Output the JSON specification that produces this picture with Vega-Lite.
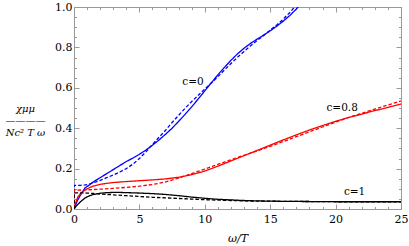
{
  "$schema": "https://vega.github.io/schema/vega-lite/v6.json",
  "width": 327,
  "height": 202,
  "autosize": "none",
  "padding": {"left": 74, "top": 7, "right": 8, "bottom": 37},
  "background": "white",
  "config": {
    "view": {"stroke": "#999999", "strokeWidth": 1},
    "font": "DejaVu Serif"
  },
  "datasets": {
    "curves": [
      {"w": 0, "v": 0, "c": "c=0", "s": "solid"},
      {"w": 0.25, "v": 0.04, "c": "c=0", "s": "solid"},
      {"w": 0.5, "v": 0.07, "c": "c=0", "s": "solid"},
      {"w": 0.85, "v": 0.105, "c": "c=0", "s": "solid"},
      {"w": 1.2, "v": 0.12, "c": "c=0", "s": "solid"},
      {"w": 1.5, "v": 0.135, "c": "c=0", "s": "solid"},
      {"w": 2, "v": 0.155, "c": "c=0", "s": "solid"},
      {"w": 2.5, "v": 0.175, "c": "c=0", "s": "solid"},
      {"w": 3, "v": 0.195, "c": "c=0", "s": "solid"},
      {"w": 3.5, "v": 0.215, "c": "c=0", "s": "solid"},
      {"w": 4, "v": 0.235, "c": "c=0", "s": "solid"},
      {"w": 4.5, "v": 0.252, "c": "c=0", "s": "solid"},
      {"w": 5, "v": 0.271, "c": "c=0", "s": "solid"},
      {"w": 5.5, "v": 0.292, "c": "c=0", "s": "solid"},
      {"w": 6, "v": 0.316, "c": "c=0", "s": "solid"},
      {"w": 6.5, "v": 0.342, "c": "c=0", "s": "solid"},
      {"w": 7, "v": 0.37, "c": "c=0", "s": "solid"},
      {"w": 7.5, "v": 0.4, "c": "c=0", "s": "solid"},
      {"w": 8, "v": 0.434, "c": "c=0", "s": "solid"},
      {"w": 8.5, "v": 0.469, "c": "c=0", "s": "solid"},
      {"w": 9, "v": 0.506, "c": "c=0", "s": "solid"},
      {"w": 9.5, "v": 0.545, "c": "c=0", "s": "solid"},
      {"w": 10, "v": 0.585, "c": "c=0", "s": "solid"},
      {"w": 10.5, "v": 0.625, "c": "c=0", "s": "solid"},
      {"w": 11, "v": 0.664, "c": "c=0", "s": "solid"},
      {"w": 11.5, "v": 0.701, "c": "c=0", "s": "solid"},
      {"w": 12, "v": 0.736, "c": "c=0", "s": "solid"},
      {"w": 12.5, "v": 0.768, "c": "c=0", "s": "solid"},
      {"w": 13, "v": 0.796, "c": "c=0", "s": "solid"},
      {"w": 13.5, "v": 0.82, "c": "c=0", "s": "solid"},
      {"w": 14, "v": 0.841, "c": "c=0", "s": "solid"},
      {"w": 14.5, "v": 0.861, "c": "c=0", "s": "solid"},
      {"w": 15, "v": 0.882, "c": "c=0", "s": "solid"},
      {"w": 15.5, "v": 0.905, "c": "c=0", "s": "solid"},
      {"w": 16, "v": 0.93, "c": "c=0", "s": "solid"},
      {"w": 16.5, "v": 0.958, "c": "c=0", "s": "solid"},
      {"w": 17, "v": 0.99, "c": "c=0", "s": "solid"},
      {"w": 17.5, "v": 1.03, "c": "c=0", "s": "solid"},

      {"w": 0, "v": 0, "c": "c=0", "s": "dashed"},
      {"w": 0.02, "v": 0.117, "c": "c=0", "s": "dashed"},
      {"w": 0.5, "v": 0.117, "c": "c=0", "s": "dashed"},
      {"w": 0.85, "v": 0.119, "c": "c=0", "s": "dashed"},
      {"w": 1.2, "v": 0.124, "c": "c=0", "s": "dashed"},
      {"w": 1.5, "v": 0.13, "c": "c=0", "s": "dashed"},
      {"w": 2, "v": 0.142, "c": "c=0", "s": "dashed"},
      {"w": 2.5, "v": 0.155, "c": "c=0", "s": "dashed"},
      {"w": 3, "v": 0.168, "c": "c=0", "s": "dashed"},
      {"w": 3.5, "v": 0.183, "c": "c=0", "s": "dashed"},
      {"w": 4, "v": 0.2, "c": "c=0", "s": "dashed"},
      {"w": 4.5, "v": 0.222, "c": "c=0", "s": "dashed"},
      {"w": 5, "v": 0.25, "c": "c=0", "s": "dashed"},
      {"w": 5.5, "v": 0.283, "c": "c=0", "s": "dashed"},
      {"w": 6, "v": 0.32, "c": "c=0", "s": "dashed"},
      {"w": 6.5, "v": 0.355, "c": "c=0", "s": "dashed"},
      {"w": 7, "v": 0.39, "c": "c=0", "s": "dashed"},
      {"w": 7.5, "v": 0.428, "c": "c=0", "s": "dashed"},
      {"w": 8, "v": 0.464, "c": "c=0", "s": "dashed"},
      {"w": 8.5, "v": 0.499, "c": "c=0", "s": "dashed"},
      {"w": 9, "v": 0.532, "c": "c=0", "s": "dashed"},
      {"w": 9.5, "v": 0.563, "c": "c=0", "s": "dashed"},
      {"w": 10, "v": 0.594, "c": "c=0", "s": "dashed"},
      {"w": 10.5, "v": 0.624, "c": "c=0", "s": "dashed"},
      {"w": 11, "v": 0.655, "c": "c=0", "s": "dashed"},
      {"w": 11.5, "v": 0.688, "c": "c=0", "s": "dashed"},
      {"w": 12, "v": 0.72, "c": "c=0", "s": "dashed"},
      {"w": 12.5, "v": 0.751, "c": "c=0", "s": "dashed"},
      {"w": 13, "v": 0.78, "c": "c=0", "s": "dashed"},
      {"w": 13.5, "v": 0.808, "c": "c=0", "s": "dashed"},
      {"w": 14, "v": 0.834, "c": "c=0", "s": "dashed"},
      {"w": 14.5, "v": 0.859, "c": "c=0", "s": "dashed"},
      {"w": 15, "v": 0.885, "c": "c=0", "s": "dashed"},
      {"w": 15.5, "v": 0.911, "c": "c=0", "s": "dashed"},
      {"w": 16, "v": 0.94, "c": "c=0", "s": "dashed"},
      {"w": 16.5, "v": 0.973, "c": "c=0", "s": "dashed"},
      {"w": 17, "v": 1.01, "c": "c=0", "s": "dashed"},
      {"w": 17.5, "v": 1.05, "c": "c=0", "s": "dashed"},

      {"w": 0, "v": 0, "c": "c=0.8", "s": "solid"},
      {"w": 0.15, "v": 0.035, "c": "c=0.8", "s": "solid"},
      {"w": 0.3, "v": 0.06, "c": "c=0.8", "s": "solid"},
      {"w": 0.5, "v": 0.077, "c": "c=0.8", "s": "solid"},
      {"w": 0.85, "v": 0.095, "c": "c=0.8", "s": "solid"},
      {"w": 1.2, "v": 0.106, "c": "c=0.8", "s": "solid"},
      {"w": 1.5, "v": 0.114, "c": "c=0.8", "s": "solid"},
      {"w": 2, "v": 0.122, "c": "c=0.8", "s": "solid"},
      {"w": 2.5, "v": 0.127, "c": "c=0.8", "s": "solid"},
      {"w": 3, "v": 0.131, "c": "c=0.8", "s": "solid"},
      {"w": 4, "v": 0.136, "c": "c=0.8", "s": "solid"},
      {"w": 5, "v": 0.14, "c": "c=0.8", "s": "solid"},
      {"w": 6, "v": 0.144, "c": "c=0.8", "s": "solid"},
      {"w": 7, "v": 0.149, "c": "c=0.8", "s": "solid"},
      {"w": 8, "v": 0.157, "c": "c=0.8", "s": "solid"},
      {"w": 9, "v": 0.17, "c": "c=0.8", "s": "solid"},
      {"w": 10, "v": 0.188, "c": "c=0.8", "s": "solid"},
      {"w": 11, "v": 0.212, "c": "c=0.8", "s": "solid"},
      {"w": 12, "v": 0.238, "c": "c=0.8", "s": "solid"},
      {"w": 13, "v": 0.264, "c": "c=0.8", "s": "solid"},
      {"w": 14, "v": 0.29, "c": "c=0.8", "s": "solid"},
      {"w": 15, "v": 0.316, "c": "c=0.8", "s": "solid"},
      {"w": 16, "v": 0.342, "c": "c=0.8", "s": "solid"},
      {"w": 17, "v": 0.367, "c": "c=0.8", "s": "solid"},
      {"w": 18, "v": 0.391, "c": "c=0.8", "s": "solid"},
      {"w": 19, "v": 0.413, "c": "c=0.8", "s": "solid"},
      {"w": 20, "v": 0.434, "c": "c=0.8", "s": "solid"},
      {"w": 21, "v": 0.453, "c": "c=0.8", "s": "solid"},
      {"w": 22, "v": 0.47, "c": "c=0.8", "s": "solid"},
      {"w": 23, "v": 0.487, "c": "c=0.8", "s": "solid"},
      {"w": 24, "v": 0.503, "c": "c=0.8", "s": "solid"},
      {"w": 25, "v": 0.52, "c": "c=0.8", "s": "solid"},

      {"w": 0, "v": 0, "c": "c=0.8", "s": "dashed"},
      {"w": 0.02, "v": 0.093, "c": "c=0.8", "s": "dashed"},
      {"w": 1, "v": 0.095, "c": "c=0.8", "s": "dashed"},
      {"w": 2, "v": 0.098, "c": "c=0.8", "s": "dashed"},
      {"w": 3, "v": 0.102, "c": "c=0.8", "s": "dashed"},
      {"w": 4, "v": 0.107, "c": "c=0.8", "s": "dashed"},
      {"w": 5, "v": 0.113, "c": "c=0.8", "s": "dashed"},
      {"w": 6, "v": 0.121, "c": "c=0.8", "s": "dashed"},
      {"w": 7, "v": 0.134, "c": "c=0.8", "s": "dashed"},
      {"w": 8, "v": 0.153, "c": "c=0.8", "s": "dashed"},
      {"w": 9, "v": 0.175, "c": "c=0.8", "s": "dashed"},
      {"w": 10, "v": 0.198, "c": "c=0.8", "s": "dashed"},
      {"w": 11, "v": 0.221, "c": "c=0.8", "s": "dashed"},
      {"w": 12, "v": 0.244, "c": "c=0.8", "s": "dashed"},
      {"w": 13, "v": 0.266, "c": "c=0.8", "s": "dashed"},
      {"w": 14, "v": 0.288, "c": "c=0.8", "s": "dashed"},
      {"w": 15, "v": 0.31, "c": "c=0.8", "s": "dashed"},
      {"w": 16, "v": 0.334, "c": "c=0.8", "s": "dashed"},
      {"w": 17, "v": 0.358, "c": "c=0.8", "s": "dashed"},
      {"w": 18, "v": 0.382, "c": "c=0.8", "s": "dashed"},
      {"w": 19, "v": 0.406, "c": "c=0.8", "s": "dashed"},
      {"w": 20, "v": 0.43, "c": "c=0.8", "s": "dashed"},
      {"w": 21, "v": 0.453, "c": "c=0.8", "s": "dashed"},
      {"w": 22, "v": 0.474, "c": "c=0.8", "s": "dashed"},
      {"w": 23, "v": 0.495, "c": "c=0.8", "s": "dashed"},
      {"w": 24, "v": 0.515, "c": "c=0.8", "s": "dashed"},
      {"w": 25, "v": 0.535, "c": "c=0.8", "s": "dashed"},

      {"w": 0, "v": 0, "c": "c=1", "s": "solid"},
      {"w": 0.25, "v": 0.02, "c": "c=1", "s": "solid"},
      {"w": 0.5, "v": 0.036, "c": "c=1", "s": "solid"},
      {"w": 0.85, "v": 0.055, "c": "c=1", "s": "solid"},
      {"w": 1.2, "v": 0.066, "c": "c=1", "s": "solid"},
      {"w": 1.5, "v": 0.072, "c": "c=1", "s": "solid"},
      {"w": 2, "v": 0.078, "c": "c=1", "s": "solid"},
      {"w": 2.5, "v": 0.081, "c": "c=1", "s": "solid"},
      {"w": 3, "v": 0.082, "c": "c=1", "s": "solid"},
      {"w": 3.5, "v": 0.082, "c": "c=1", "s": "solid"},
      {"w": 4, "v": 0.081, "c": "c=1", "s": "solid"},
      {"w": 5, "v": 0.079, "c": "c=1", "s": "solid"},
      {"w": 6, "v": 0.076, "c": "c=1", "s": "solid"},
      {"w": 7, "v": 0.072, "c": "c=1", "s": "solid"},
      {"w": 8, "v": 0.066, "c": "c=1", "s": "solid"},
      {"w": 9, "v": 0.059, "c": "c=1", "s": "solid"},
      {"w": 10, "v": 0.053, "c": "c=1", "s": "solid"},
      {"w": 11, "v": 0.048, "c": "c=1", "s": "solid"},
      {"w": 12, "v": 0.045, "c": "c=1", "s": "solid"},
      {"w": 13, "v": 0.042, "c": "c=1", "s": "solid"},
      {"w": 14, "v": 0.04, "c": "c=1", "s": "solid"},
      {"w": 15, "v": 0.039, "c": "c=1", "s": "solid"},
      {"w": 16, "v": 0.038, "c": "c=1", "s": "solid"},
      {"w": 18, "v": 0.037, "c": "c=1", "s": "solid"},
      {"w": 20, "v": 0.036, "c": "c=1", "s": "solid"},
      {"w": 22, "v": 0.036, "c": "c=1", "s": "solid"},
      {"w": 25, "v": 0.036, "c": "c=1", "s": "solid"},

      {"w": 0, "v": 0, "c": "c=1", "s": "dashed"},
      {"w": 0.02, "v": 0.08, "c": "c=1", "s": "dashed"},
      {"w": 0.5, "v": 0.08, "c": "c=1", "s": "dashed"},
      {"w": 1, "v": 0.079, "c": "c=1", "s": "dashed"},
      {"w": 1.5, "v": 0.077, "c": "c=1", "s": "dashed"},
      {"w": 2, "v": 0.074, "c": "c=1", "s": "dashed"},
      {"w": 2.5, "v": 0.072, "c": "c=1", "s": "dashed"},
      {"w": 3, "v": 0.07, "c": "c=1", "s": "dashed"},
      {"w": 4, "v": 0.066, "c": "c=1", "s": "dashed"},
      {"w": 5, "v": 0.062, "c": "c=1", "s": "dashed"},
      {"w": 6, "v": 0.058, "c": "c=1", "s": "dashed"},
      {"w": 7, "v": 0.055, "c": "c=1", "s": "dashed"},
      {"w": 8, "v": 0.052, "c": "c=1", "s": "dashed"},
      {"w": 9, "v": 0.049, "c": "c=1", "s": "dashed"},
      {"w": 10, "v": 0.046, "c": "c=1", "s": "dashed"},
      {"w": 11, "v": 0.044, "c": "c=1", "s": "dashed"},
      {"w": 12, "v": 0.042, "c": "c=1", "s": "dashed"},
      {"w": 13, "v": 0.04, "c": "c=1", "s": "dashed"},
      {"w": 14, "v": 0.039, "c": "c=1", "s": "dashed"},
      {"w": 16, "v": 0.038, "c": "c=1", "s": "dashed"},
      {"w": 18, "v": 0.037, "c": "c=1", "s": "dashed"},
      {"w": 20, "v": 0.036, "c": "c=1", "s": "dashed"},
      {"w": 25, "v": 0.036, "c": "c=1", "s": "dashed"}
    ],
    "labels": [
      {"w": 9.1, "v": 0.63, "label": "c=0"},
      {"w": 20.5, "v": 0.5, "label": "c=0.8"},
      {"w": 21.45, "v": 0.083, "label": "c=1"}
    ]
  },
  "resolve": {"axis": {"x": "independent", "y": "independent"}},
  "layer": [
    {
      "data": {"name": "curves"},
      "mark": {"type": "line", "clip": true, "strokeWidth": 1.3},
      "encoding": {
        "x": {
          "field": "w", "type": "quantitative",
          "scale": {"domain": [0, 25], "nice": false, "zero": false},
          "axis": {
            "orient": "bottom",
            "title": "ω/T",
            "titleFont": "DejaVu Serif", "titleFontSize": 11, "titleFontWeight": "normal", "titleFontStyle": "italic",
            "titlePadding": 6,
            "values": [0,1,2,3,4,5,6,7,8,9,10,11,12,13,14,15,16,17,18,19,20,21,22,23,24,25],
            "labelExpr": "datum.value % 5 === 0 ? format(datum.value, 'd') : ''",
            "labelFont": "DejaVu Serif", "labelFontSize": 11, "labelColor": "black",
            "labelPadding": 9, "labelFlush": false, "labelOverlap": false,
            "grid": false,
            "domainColor": "#999999",
            "tickColor": "#999999",
            "tickSize": {"condition": {"test": "datum.value % 5 === 0", "value": -5}, "value": -2.5}
          }
        },
        "y": {
          "field": "v", "type": "quantitative",
          "scale": {"domain": [0, 1], "nice": false, "zero": false},
          "axis": {
            "orient": "left",
            "title": ["χμμ", "————", "Nc² T ω"],
            "titleFont": "DejaVu Serif", "titleFontSize": 10, "titleFontWeight": "normal", "titleFontStyle": "italic",
            "titleAngle": 0, "titleAlign": "center", "titleBaseline": "middle",
            "titleLineHeight": 12,
            "titleX": -49, "titleY": 101,
            "values": [0,0.05,0.1,0.15,0.2,0.25,0.3,0.35,0.4,0.45,0.5,0.55,0.6,0.65,0.7,0.75,0.8,0.85,0.9,0.95,1],
            "labelExpr": "abs(round(datum.value * 5) - datum.value * 5) < 0.0001 ? format(datum.value, '.1f') : ''",
            "labelFont": "DejaVu Serif", "labelFontSize": 11, "labelColor": "black",
            "labelPadding": 7, "labelFlush": false, "labelOverlap": false,
            "grid": false,
            "domainColor": "#999999",
            "tickColor": "#999999",
            "tickSize": {"condition": {"test": "abs(round(datum.value * 5) - datum.value * 5) < 0.0001", "value": -5}, "value": -2.5}
          }
        },
        "color": {
          "field": "c", "type": "nominal",
          "scale": {"domain": ["c=0", "c=0.8", "c=1"], "range": ["#0000ff", "#ff0000", "#000000"]},
          "legend": null
        },
        "strokeDash": {
          "field": "s", "type": "nominal",
          "scale": {"domain": ["solid", "dashed"], "range": [[1, 0], [3.5, 2]]},
          "legend": null
        },
        "detail": {"field": "s"}
      }
    },
    {
      "data": {"name": "labels"},
      "mark": {"type": "text", "font": "DejaVu Serif", "fontSize": 10.5, "color": "black", "align": "center", "baseline": "middle"},
      "encoding": {
        "x": {
          "field": "w", "type": "quantitative",
          "axis": {
            "orient": "top", "title": null, "labels": false,
            "values": [0,1,2,3,4,5,6,7,8,9,10,11,12,13,14,15,16,17,18,19,20,21,22,23,24,25],
            "grid": false, "domainColor": "#999999", "tickColor": "#999999",
            "tickSize": {"condition": {"test": "datum.value % 5 === 0", "value": -5}, "value": -2.5}
          }
        },
        "y": {
          "field": "v", "type": "quantitative",
          "axis": {
            "orient": "right", "title": null, "labels": false,
            "values": [0,0.05,0.1,0.15,0.2,0.25,0.3,0.35,0.4,0.45,0.5,0.55,0.6,0.65,0.7,0.75,0.8,0.85,0.9,0.95,1],
            "grid": false, "domainColor": "#999999", "tickColor": "#999999",
            "tickSize": {"condition": {"test": "abs(round(datum.value * 5) - datum.value * 5) < 0.0001", "value": -5}, "value": -2.5}
          }
        },
        "text": {"field": "label", "type": "nominal"}
      }
    }
  ]
}
